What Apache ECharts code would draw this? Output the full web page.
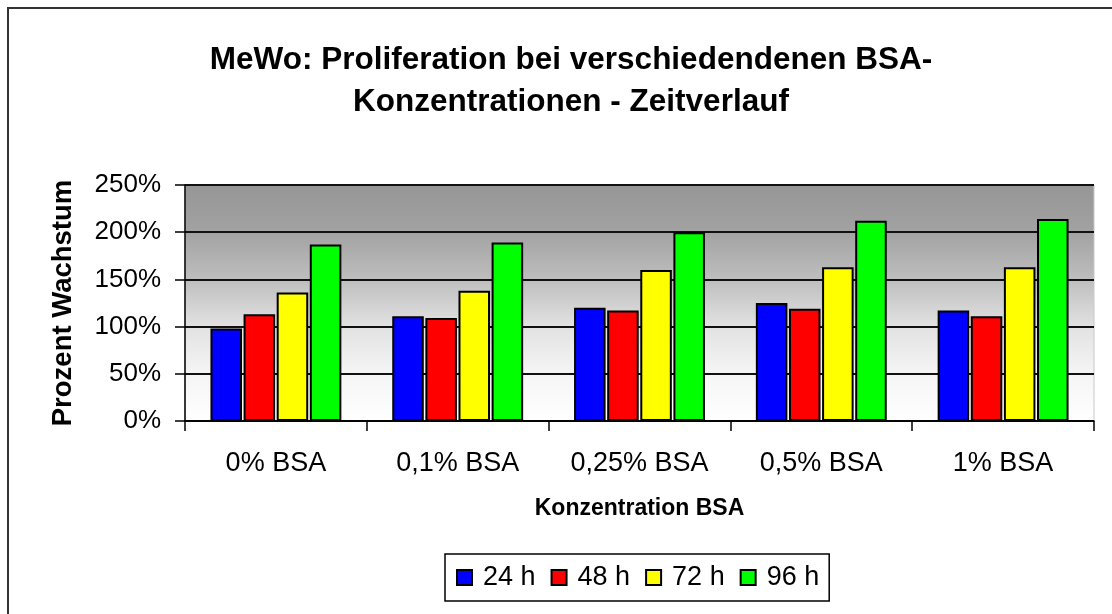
<!DOCTYPE html>
<html>
<head>
<meta charset="utf-8">
<script src="https://cdn.jsdelivr.net/npm/echarts@6/dist/echarts.min.js"></script>
<style>
html, body { margin: 0; padding: 0; background: #fff; }
#main { width: 1112px; height: 614px; }
</style>
</head>
<body>
<div id="main"></div>
<script>
// Werte in Prozent
var categories = ['0% BSA', '0,1% BSA', '0,25% BSA', '0,5% BSA', '1% BSA'];
var h24 = [98, 111, 120, 125, 117];
var h48 = [113, 109, 117, 119, 111];
var h72 = [136, 138, 160, 163, 163];
var h96 = [187, 189, 200, 212, 214];
var seriesNames = ['24 h', '48 h', '72 h', '96 h'];
var seriesColors = ['#0000ff', '#ff0000', '#ffff00', '#00ff00'];

var font = '"Liberation Sans", Arial, sans-serif';

function barSeries(name, data, color) {
  return {
    name: name,
    type: 'bar',
    data: data,
    barGap: '5%',
    barCategoryGap: '28%',
    itemStyle: { color: color, borderColor: '#000', borderWidth: 2 }
  };
}

var main = document.getElementById('main');
var chart = echarts.init(main);
var option = {
  animation: false,
  textStyle: { fontFamily: font },
  graphic: [{
    type: 'rect',
    shape: { x: 8, y: 8, width: 1200, height: 700 },
    style: { fill: 'none', stroke: '#333', lineWidth: 2 },
    silent: true
  }],
  title: {
    text: 'MeWo: Proliferation bei verschiedendenen BSA-\nKonzentrationen - Zeitverlauf',
    left: 566,
    top: 34,
    textAlign: 'center',
    textStyle: { fontFamily: font, fontSize: 31.5, fontWeight: 'bold', color: '#000', lineHeight: 42 }
  },
  legend: {
    data: seriesNames,
    left: 445,
    top: 554,
    orient: 'horizontal',
    itemWidth: 15,
    itemHeight: 15,
    itemGap: 15,
    padding: [10, 10, 10, 11],
    borderColor: '#000',
    borderWidth: 1.5,
    icon: 'rect',
    textStyle: { fontFamily: font, fontSize: 27, color: '#000', padding: [0, 0, 0, 6] }
  },
  grid: {
    left: 185,
    right: 18,
    top: 185,
    bottom: 193,
    show: true,
    borderColor: '#c8c8c8',
    borderWidth: 1,
    backgroundColor: new echarts.graphic.LinearGradient(0, 0, 0, 1, [
      { offset: 0, color: '#969696' },
      { offset: 0.2, color: '#a2a2a2' },
      { offset: 0.4, color: '#bebebe' },
      { offset: 0.6, color: '#e2e2e2' },
      { offset: 0.8, color: '#f5f5f5' },
      { offset: 1, color: '#ffffff' }
    ])
  },
  xAxis: {
    type: 'category',
    data: categories,
    name: 'Konzentration BSA',
    nameLocation: 'middle',
    nameGap: 76,
    nameTextStyle: { fontFamily: font, fontSize: 23, fontWeight: 'bold', color: '#000' },
    axisLine: { lineStyle: { color: '#000', width: 1.5 } },
    axisTick: { show: true, length: 10, lineStyle: { color: '#000', width: 1.5 } },
    axisLabel: { margin: 29, fontFamily: font, fontSize: 27, color: '#000' }
  },
  yAxis: {
    type: 'value',
    min: 0,
    max: 250,
    interval: 50,
    name: 'Prozent Wachstum',
    nameLocation: 'middle',
    nameGap: 108,
    nameTextStyle: { fontFamily: font, fontSize: 27.5, fontWeight: 'bold', color: '#000' },
    axisLine: { show: true, lineStyle: { color: '#000', width: 1.5 } },
    axisTick: { show: true, length: 10, lineStyle: { color: '#000', width: 1.5 } },
    axisLabel: { margin: 24, fontFamily: font, fontSize: 26, color: '#000', formatter: '{value}%' },
    splitLine: { lineStyle: { color: '#111', width: 2 } }
  },
  series: [
    barSeries(seriesNames[0], h24, seriesColors[0]),
    barSeries(seriesNames[1], h48, seriesColors[1]),
    barSeries(seriesNames[2], h72, seriesColors[2]),
    barSeries(seriesNames[3], h96, seriesColors[3])
  ]
};
chart.setOption(option);
</script>
</body>
</html>
